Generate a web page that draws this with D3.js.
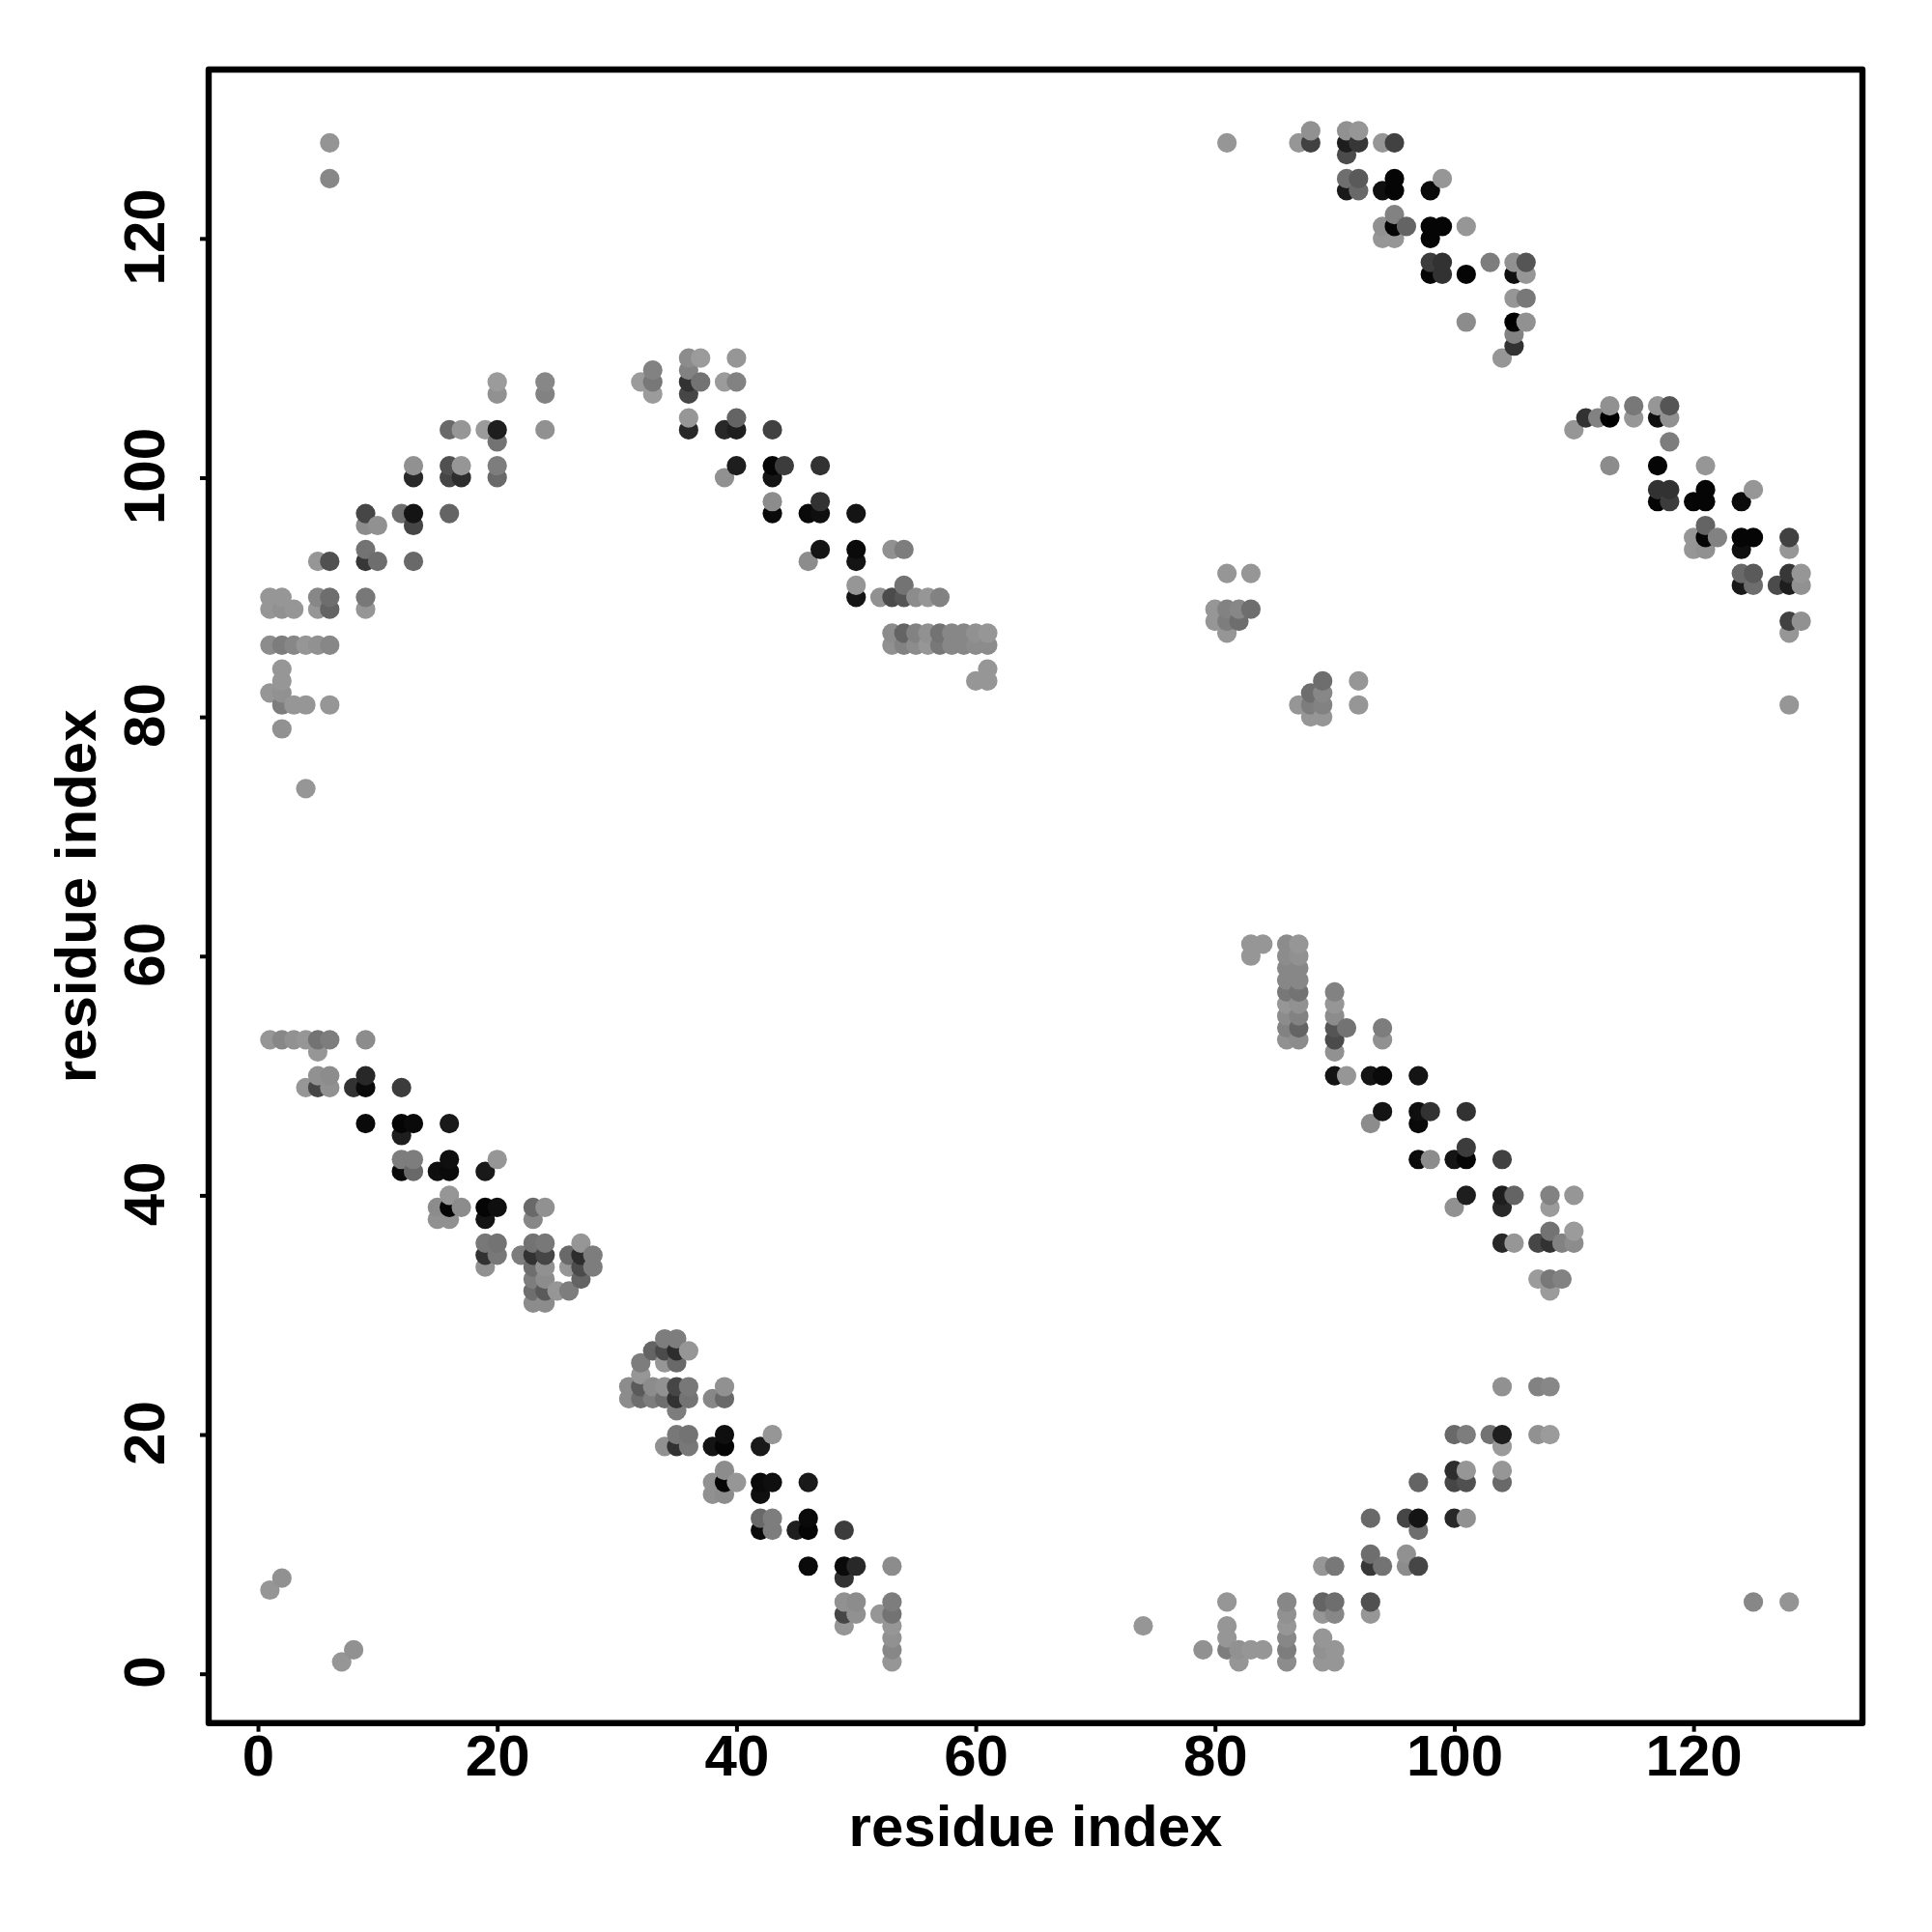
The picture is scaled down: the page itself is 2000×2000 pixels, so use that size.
<!DOCTYPE html>
<html><head><meta charset="utf-8">
<script src="https://cdn.jsdelivr.net/npm/d3@7"></script>
<style>html,body{margin:0;padding:0;background:#fff}svg{display:block}text{font-family:"Liberation Sans",Arial,sans-serif;font-weight:700;fill:#000}</style>
</head><body><svg id="c" width="2000" height="2000"></svg>
<script>
// [residue i, residue j, score]  (i<j; the map is symmetric, score 0 = strongest, 155 = weakest)
const farContacts=[[6,128,148],[6,125,135],[1,7,150],[2,8,145],[4,74,150],[2,79,145]];
const contactsNTermA=[
[2,81,125],[3,81,150],[4,81,150],[6,81,150],[1,82,150],[2,82,145],[2,83,150],[2,84,150],
[1,86,140],[2,86,125],[3,86,135],[4,86,150],[5,86,145],[6,86,135],
[1,89,150],[2,89,145],[3,89,150],[5,89,150],[6,89,100],[9,89,150],
[1,90,150],[2,90,150],[5,90,135],[6,90,110],[9,90,120],
[5,93,150],[6,93,80],[9,93,55],[10,93,110],[13,93,105],[9,94,115],
[9,96,140],[10,96,145],[13,96,70],[9,97,70],[12,97,110],[13,97,20],[16,97,100],
[13,100,40],[16,100,70],[17,100,45],[20,100,105],[13,101,145],[16,101,80],[17,101,150],[20,101,125],
[20,103,115],[16,104,105],[17,104,150],[19,104,155],[20,104,30],[24,104,145],
[20,107,145],[24,107,130],[20,108,155],[24,108,135]];
const contactsNTermB=[
[32,108,155],[33,107,155],[33,108,120],[33,109,130],
[36,104,40],[36,105,150],[36,107,70],[36,108,50],[36,109,130],[36,110,140],[37,108,115],[37,110,155],
[39,100,145],[39,104,40],[39,108,155],[40,101,30],[40,104,30],[40,105,100],[40,108,130],[40,110,150],
[43,97,10],[43,98,140],[43,100,20],[43,101,5],[43,104,65],[44,101,60],
[46,93,140],[46,97,10],[47,94,20],[47,97,15],[47,98,50],[47,101,50],
[50,90,20],[50,91,150],[50,93,20],[50,94,10],[50,97,20],
[52,90,145],[53,86,145],[53,87,140],[53,90,75],[53,94,145],
[54,86,130],[54,87,100],[54,90,85],[54,91,115],[54,94,125],
[55,86,140],[55,87,130],[55,90,140],[56,86,150],[56,87,145],[56,90,150],
[57,86,120],[57,87,115],[57,90,130],[58,86,135],[58,87,135],[59,86,135],[59,87,135],
[60,83,150],[60,86,140],[60,87,145],[61,83,150],[61,84,150],[61,86,140],[61,87,150]];
const contactsBandLow=[
[1,53,150],[2,53,135],[3,53,145],[4,53,150],[5,53,115],[6,53,125],[9,53,140],[5,52,150],
[5,50,145],[6,50,140],[9,50,40],[4,49,150],[5,49,70],[6,49,145],[8,49,50],[9,49,10],[12,49,60],
[9,46,10],[12,46,5],[13,46,10],[16,46,25],[12,45,30],
[12,43,125],[13,43,125],[16,43,15],[20,43,150],[12,42,10],[13,42,105],[15,42,15],[16,42,10],[19,42,25],
[16,40,150],[15,39,140],[16,39,5],[17,39,140],[19,39,5],[20,39,15],[23,39,105],[24,39,145],
[15,38,145],[16,38,145],[19,38,20],[23,38,135],
[19,36,120],[20,36,115],[23,36,115],[24,36,120],[27,36,150],
[19,35,50],[20,35,120],[22,35,125],[23,35,50],[24,35,70],[26,35,105],[27,35,45],[28,35,125],
[19,34,145],[23,34,110],[24,34,145],[26,34,150],[27,34,75],[28,34,125],
[23,33,125],[24,33,140],[27,33,100],[23,32,110],[24,32,90],[25,32,150],[26,32,125],[23,31,140],[24,31,140]];
const contactsBandHigh=[
[81,128,150],[87,128,150],[88,128,65],[88,129,145],[91,129,145],[92,129,150],[91,128,30],[92,128,55],[94,128,150],[95,128,65],
[91,127,75],[91,125,110],[92,125,90],[91,124,25],[92,124,105],[94,124,15],[95,125,5],[95,124,5],[98,124,10],[99,125,150],
[95,122,130],[94,121,145],[95,121,5],[96,121,100],[94,120,150],[95,120,150],[98,121,5],[99,121,5],[98,120,5],[101,121,150],
[98,118,60],[99,118,50],[98,117,5],[99,117,50],[101,117,5],[103,118,125],[105,118,145],[106,118,85],[105,117,15],[106,117,150],
[105,115,150],[106,115,120],[101,113,140],[105,113,0],[106,113,145],[105,112,130],[105,111,50],[104,110,150]];
const contactsCluster=[
[81,92,150],[83,92,150],[80,89,150],[81,89,130],[82,89,135],[83,89,110],[80,88,150],[81,88,125],[82,88,110],[81,87,150]];
const tickValuesAxis=[0,20,40,60,80,100,120];
const xAxisTitle="residue index", yAxisTitle="residue index";

const half=[...farContacts,...contactsNTermA,...contactsNTermB,...contactsBandLow,...contactsBandHigh,...contactsCluster];
const points=half.flatMap(([i,j,s])=>[{x:i,y:j,s},{x:j,y:i,s}]).sort((a,b)=>d3.ascending(a.x,b.x)||d3.ascending(a.y,b.y));

const L=216,R=1928,T=72,B=1783.7;
const x=d3.scaleLinear().domain([-4.12,134.12]).range([L,R]);
const y=d3.scaleLinear().domain([-4.12,134.12]).range([B,T]);
const shade=d3.scaleLinear().domain([0,155]).range(["#000000","#9b9b9b"]).clamp(true);
const svg=d3.select("#c");

svg.append("g").selectAll("circle").data(points).join("circle")
  .attr("cx",d=>x(d.x)).attr("cy",d=>y(d.y)).attr("r",10.1).attr("fill",d=>shade(d.s));

svg.append("rect").attr("x",L).attr("y",T).attr("width",R-L).attr("height",B-T)
  .attr("fill","none").attr("stroke","#000").attr("stroke-width",6.4).attr("stroke-linejoin","round");

const ax=svg.append("g").attr("transform",`translate(0,${B})`)
  .call(d3.axisBottom(x).tickValues(tickValuesAxis).tickSize(9).tickFormat(d3.format("d")));
const ay=svg.append("g").attr("transform",`translate(${L},0)`)
  .call(d3.axisLeft(y).tickValues(tickValuesAxis).tickSize(9).tickFormat(d3.format("d")));
[ax,ay].forEach(g=>{g.select(".domain").remove();
  g.selectAll("line").attr("stroke","#000").attr("stroke-width",4);
  g.selectAll("text").attr("font-size",60).attr("dy",0);});
ax.selectAll("text").attr("y",54.3);
ay.selectAll("text").attr("text-anchor","middle").attr("x",0).attr("y",0)
  .attr("transform","translate(-46.3,-2) rotate(-90)");

svg.append("text").attr("x",(L+R)/2).attr("y",1911).attr("text-anchor","middle").attr("font-size",60).text(xAxisTitle);
svg.append("text").attr("transform",`translate(98.5,${(T+B)/2}) rotate(-90)`).attr("text-anchor","middle").attr("font-size",60).text(yAxisTitle);
</script></body></html>
